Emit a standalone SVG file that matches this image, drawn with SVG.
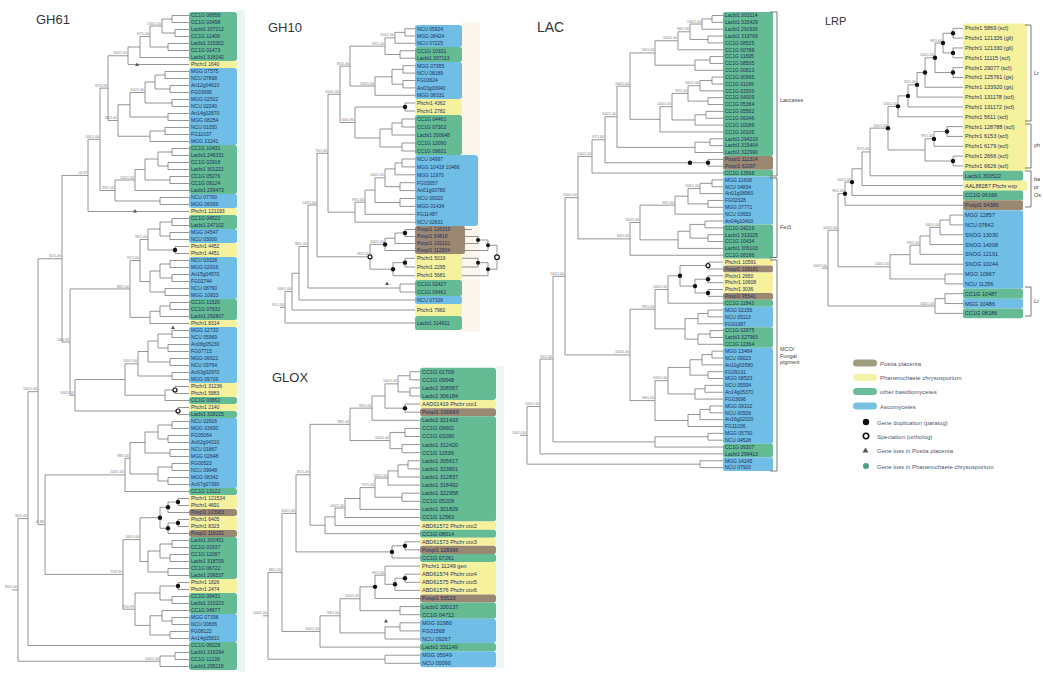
<svg xmlns="http://www.w3.org/2000/svg" width="1043" height="675" viewBox="0 0 1043 675">
<style>
text{font-family:"Liberation Sans",Arial,sans-serif}
.t{font-size:5px;fill:#1f2f5a}
.t55{font-size:5.5px;fill:#1f2f5a}
.s{font-size:3.6px;fill:#7a7a7a;text-anchor:end}
.ttl{font-size:13px;fill:#333}
.g{fill:#64bb94}.b{fill:#70bee6}.y{fill:#f5f19c}.n{fill:#9b8873}
.tree{fill:none;stroke:#7a7a7a;stroke-width:0.8}
.brk{fill:none;stroke:#666;stroke-width:0.9}
.dot{fill:#111}
.ring{fill:#fff;stroke:#111;stroke-width:1.2}
.tri{fill:#555}
.lg{font-size:6px;fill:#4a5570}
.bl{font-size:5.5px;fill:#444}
</style>
<rect width="1043" height="675" fill="#fff"/>
<rect x="237" y="10" width="8" height="662" fill="#eaf6f6"/>
<rect x="462" y="22" width="18" height="310" fill="#fbf6ee"/>
<rect x="496" y="366" width="8" height="302" fill="#eef7f4"/>

<!-- ================= GH61 ================= -->
<g id="gh61">
<text class="ttl" x="36" y="24">GH61</text>
<g id="gh61-n1"><rect class="g" x="189" y="12" width="48" height="49" rx="2.5"/><text class="t" x="191" y="17.3"><tspan x="191">CC1G 08958</tspan><tspan x="191" dy="7">CC1G 03498</tspan><tspan x="191" dy="7">Lacbi1 307212</tspan><tspan x="191" dy="7">CC1G 11409</tspan><tspan x="191" dy="7">Lacbi1 315302</tspan><tspan x="191" dy="7">CC1G 01473</tspan><tspan x="191" dy="7">Lacbi1 318142</tspan></text></g>
<g id="gh61-n2"><rect class="y" x="189" y="61" width="48" height="7" rx="2.5"/><text class="t" x="191" y="66.3">Phchr1 1640</text></g>
<g id="gh61-n3"><rect class="b" x="189" y="68" width="48" height="77" rx="2.5"/><text class="t" x="191" y="73.3"><tspan x="191">MGG 07575</tspan><tspan x="191" dy="7">NCU 07898</tspan><tspan x="191" dy="7">An12g04610</tspan><tspan x="191" dy="7">FG03695</tspan><tspan x="191" dy="7">MGG 02502</tspan><tspan x="191" dy="7">NCU 02240</tspan><tspan x="191" dy="7">An14g02670</tspan><tspan x="191" dy="7">MGG 08254</tspan><tspan x="191" dy="7">NCU 01050</tspan><tspan x="191" dy="7">FG11037</tspan><tspan x="191" dy="7">MGG 13241</tspan></text></g>
<g id="gh61-n4"><rect class="g" x="189" y="145" width="48" height="49" rx="2.5"/><text class="t" x="191" y="150.3"><tspan x="191">CC1G 10431</tspan><tspan x="191" dy="7">Lacbi1 246331</tspan><tspan x="191" dy="7">CC1G 02918</tspan><tspan x="191" dy="7">Lacbi1 301221</tspan><tspan x="191" dy="7">CC1G 05276</tspan><tspan x="191" dy="7">CC1G 09124</tspan><tspan x="191" dy="7">Lacbi1 299473</tspan></text></g>
<g id="gh61-n5"><rect class="b" x="189" y="194" width="48" height="14" rx="2.5"/><text class="t" x="191" y="199.3"><tspan x="191">NCU 07760</tspan><tspan x="191" dy="7">MGG 06069</tspan></text></g>
<g id="gh61-n6"><rect class="y" x="189" y="208" width="48" height="7" rx="2.5"/><text class="t" x="191" y="213.3">Phchr1 121193</text></g>
<g id="gh61-n7"><rect class="g" x="189" y="215" width="48" height="14" rx="2.5"/><text class="t" x="191" y="220.3"><tspan x="191">CC1G 04522</tspan><tspan x="191" dy="7">Lacbi1 247102</tspan></text></g>
<g id="gh61-n8"><rect class="b" x="189" y="229" width="48" height="14" rx="2.5"/><text class="t" x="191" y="234.3"><tspan x="191">MGG 04547</tspan><tspan x="191" dy="7">NCU 03000</tspan></text></g>
<g id="gh61-n9"><rect class="y" x="189" y="243" width="48" height="14" rx="2.5"/><text class="t" x="191" y="248.3"><tspan x="191">Phchr1 4452</tspan><tspan x="191" dy="7">Phchr1 4451</tspan></text></g>
<g id="gh61-n10"><rect class="b" x="189" y="257" width="48" height="42" rx="2.5"/><text class="t" x="191" y="262.3"><tspan x="191">NCU 03328</tspan><tspan x="191" dy="7">MGG 02916</tspan><tspan x="191" dy="7">An15g04570</tspan><tspan x="191" dy="7">FG02744</tspan><tspan x="191" dy="7">NCU 08760</tspan><tspan x="191" dy="7">MGG 10933</tspan></text></g>
<g id="gh61-n11"><rect class="g" x="189" y="299" width="48" height="21" rx="2.5"/><text class="t" x="191" y="304.3"><tspan x="191">CC1G 11520</tspan><tspan x="191" dy="7">CC1G 07632</tspan><tspan x="191" dy="7">Lacbi1 292807</tspan></text></g>
<g id="gh61-n12"><rect class="y" x="189" y="320" width="48" height="7" rx="2.5"/><text class="t" x="191" y="325.3">Phchr1 8314</text></g>
<g id="gh61-n13"><rect class="b" x="189" y="327" width="48" height="56" rx="2.5"/><text class="t" x="191" y="332.3"><tspan x="191">MGG 12733</tspan><tspan x="191" dy="7">NCU 05969</tspan><tspan x="191" dy="7">An08g05230</tspan><tspan x="191" dy="7">FG07715</tspan><tspan x="191" dy="7">MGG 06621</tspan><tspan x="191" dy="7">NCU 09764</tspan><tspan x="191" dy="7">An03g02970</tspan><tspan x="191" dy="7">MGG 09709</tspan></text></g>
<g id="gh61-n14"><rect class="y" x="189" y="383" width="48" height="14" rx="2.5"/><text class="t" x="191" y="388.3"><tspan x="191">Phchr1 31236</tspan><tspan x="191" dy="7">Phchr1 5883</tspan></text></g>
<g id="gh61-n15"><rect class="g" x="189" y="397" width="48" height="7" rx="2.5"/><text class="t" x="191" y="402.3">CC1G 00862</text></g>
<g id="gh61-n16"><rect class="y" x="189" y="404" width="48" height="7" rx="2.5"/><text class="t" x="191" y="409.3">Phchr1 2140</text></g>
<g id="gh61-n17"><rect class="g" x="189" y="411" width="48" height="7" rx="2.5"/><text class="t" x="191" y="416.3">Lacbi1 328215</text></g>
<g id="gh61-n18"><rect class="b" x="189" y="418" width="48" height="70" rx="2.5"/><text class="t" x="191" y="423.3"><tspan x="191">NCU 02916</tspan><tspan x="191" dy="7">MGG 03690</tspan><tspan x="191" dy="7">FG05064</tspan><tspan x="191" dy="7">An02g04310</tspan><tspan x="191" dy="7">NCU 01867</tspan><tspan x="191" dy="7">MGG 02648</tspan><tspan x="191" dy="7">FG00523</tspan><tspan x="191" dy="7">NCU 09948</tspan><tspan x="191" dy="7">MGG 08342</tspan><tspan x="191" dy="7">An07g07390</tspan></text></g>
<g id="gh61-n19"><rect class="g" x="189" y="488" width="48" height="7" rx="2.5"/><text class="t" x="191" y="493.3">CC1G 13122</text></g>
<g id="gh61-n20"><rect class="y" x="189" y="495" width="48" height="14" rx="2.5"/><text class="t" x="191" y="500.3"><tspan x="191">Phchr1 121534</tspan><tspan x="191" dy="7">Phchr1 4691</tspan></text></g>
<g id="gh61-n21"><rect class="n" x="189" y="509" width="48" height="7" rx="2.5"/><text class="t" x="191" y="514.3">Pospl1 103983</text></g>
<g id="gh61-n22"><rect class="y" x="189" y="516" width="48" height="14" rx="2.5"/><text class="t" x="191" y="521.3"><tspan x="191">Phchr1 6405</tspan><tspan x="191" dy="7">Phchr1 8323</tspan></text></g>
<g id="gh61-n23"><rect class="n" x="189" y="530" width="48" height="7" rx="2.5"/><text class="t" x="191" y="535.3">Pospl1 116291</text></g>
<g id="gh61-n24"><rect class="g" x="189" y="537" width="48" height="42" rx="2.5"/><text class="t" x="191" y="542.3"><tspan x="191">Lacbi1 300451</tspan><tspan x="191" dy="7">CC1G 01937</tspan><tspan x="191" dy="7">CC1G 12087</tspan><tspan x="191" dy="7">Lacbi1 318709</tspan><tspan x="191" dy="7">CC1G 06722</tspan><tspan x="191" dy="7">Lacbi1 296537</tspan></text></g>
<g id="gh61-n25"><rect class="y" x="189" y="579" width="48" height="14" rx="2.5"/><text class="t" x="191" y="584.3"><tspan x="191">Phchr1 1826</tspan><tspan x="191" dy="7">Phchr1 2474</tspan></text></g>
<g id="gh61-n26"><rect class="g" x="189" y="593" width="48" height="21" rx="2.5"/><text class="t" x="191" y="598.3"><tspan x="191">CC1G 09431</tspan><tspan x="191" dy="7">Lacbi1 310223</tspan><tspan x="191" dy="7">CC1G 04877</tspan></text></g>
<g id="gh61-n27"><rect class="b" x="189" y="614" width="48" height="28" rx="2.5"/><text class="t" x="191" y="619.3"><tspan x="191">MGG 07398</tspan><tspan x="191" dy="7">NCU 00836</tspan><tspan x="191" dy="7">FG08122</tspan><tspan x="191" dy="7">An14g05810</tspan></text></g>
<g id="gh61-n28"><rect class="g" x="189" y="642" width="48" height="28" rx="2.5"/><text class="t" x="191" y="647.3"><tspan x="191">CC1G 08328</tspan><tspan x="191" dy="7">Lacbi1 316294</tspan><tspan x="191" dy="7">CC1G 11226</tspan><tspan x="191" dy="7">Lacbi1 295118</tspan></text></g>
</g>

<!-- ================= GH10 ================= -->
<g id="gh10">
<text class="ttl" x="268" y="32">GH10</text>
<g id="gh10-n1"><rect class="b" x="415" y="25" width="47" height="22" rx="2.5"/><text class="t" x="417" y="30.5"><tspan x="417">NCU 05924</tspan><tspan x="417" dy="7.33">MGG 08424</tspan><tspan x="417" dy="7.33">NCU 07225</tspan></text></g>
<g id="gh10-n2"><rect class="g" x="415" y="47" width="47" height="15" rx="2.5"/><text class="t" x="417" y="52.55"><tspan x="417">CC1G 10331</tspan><tspan x="417" dy="7.5">Lacbi1 307113</tspan></text></g>
<g id="gh10-n3"><rect class="b" x="415" y="62" width="47" height="37" rx="2.5"/><text class="t" x="417" y="67.5"><tspan x="417">MGG 07955</tspan><tspan x="417" dy="7.4">NCU 08189</tspan><tspan x="417" dy="7.4">FG03624</tspan><tspan x="417" dy="7.4">An03g00940</tspan><tspan x="417" dy="7.4">MGG 08331</tspan></text></g>
<g id="gh10-n4"><rect class="y" x="415" y="99" width="47" height="16" rx="2.5"/><text class="t" x="417" y="104.8"><tspan x="417">Phchr1 4362</tspan><tspan x="417" dy="8">Phchr1 2782</tspan></text></g>
<g id="gh10-n5"><rect class="g" x="415" y="115" width="47" height="40" rx="2.5"/><text class="t" x="417" y="120.8"><tspan x="417">CC1G 04461</tspan><tspan x="417" dy="8">CC1G 07302</tspan><tspan x="417" dy="8">Lacbi1 300648</tspan><tspan x="417" dy="8">CC1G 12090</tspan><tspan x="417" dy="8">CC1G 09831</tspan></text></g>
<g id="gh10-n6"><rect class="b" x="415" y="155" width="63" height="71" rx="3"/><text class="t" x="417" y="160.8"><tspan x="417">NCU 04997</tspan><tspan x="417" dy="7.9">MGG 10418 10466</tspan><tspan x="417" dy="7.9">MGG 11970</tspan><tspan x="417" dy="7.9">FG03057</tspan><tspan x="417" dy="7.9">An01g00780</tspan><tspan x="417" dy="7.9">NCU 09320</tspan><tspan x="417" dy="7.9">MGG 01434</tspan><tspan x="417" dy="7.9">FG11487</tspan><tspan x="417" dy="7.9">NCU 02631</tspan></text></g>
<g id="gh10-n7"><rect class="n" x="415" y="226" width="50" height="28" rx="2.5"/><text class="t" x="417" y="231.3"><tspan x="417">Pospl1 126319</tspan><tspan x="417" dy="7">Pospl1 54818</tspan><tspan x="417" dy="7">Pospl1 132101</tspan><tspan x="417" dy="7">Pospl1 112804</tspan></text></g>
<g id="gh10-n8"><rect class="y" x="415" y="254" width="47" height="26" rx="2.5"/><text class="t" x="417" y="260.1"><tspan x="417">Phchr1 5019</tspan><tspan x="417" dy="8.67">Phchr1 2295</tspan><tspan x="417" dy="8.67">Phchr1 5681</tspan></text></g>
<g id="gh10-n9"><rect class="g" x="415" y="280" width="47" height="16" rx="2.5"/><text class="t" x="417" y="285.8"><tspan x="417">CC1G 02427</tspan><tspan x="417" dy="8">CC1G 09461</tspan></text></g>
<g id="gh10-n10"><rect class="b" x="415" y="296" width="47" height="8" rx="2.5"/><text class="t" x="417" y="301.8">NCU 07326</text></g>
<g id="gh10-n11"><rect class="y" x="415" y="304" width="47" height="12" rx="2.5"/><text class="t" x="417" y="311.8">Phchr1 7982</text></g>
<g id="gh10-n12"><rect class="g" x="415" y="316" width="47" height="14" rx="2.5"/><text class="t" x="417" y="324.8">Lacbi1 314611</text></g>
</g>

<!-- ================= GLOX ================= -->
<g id="glox">
<text class="ttl" x="272" y="382">GLOX</text>
<g id="glox-n1"><rect class="g" x="420" y="367.65" width="76" height="32.4" rx="3"/><text class="t55" x="422" y="373.6"><tspan x="422">CC1G 01709</tspan><tspan x="422" dy="8.1">CC1G 09548</tspan><tspan x="422" dy="8.1">Lacbi1 308567</tspan><tspan x="422" dy="8.1">Lacbi1 306184</tspan></text></g>
<g id="glox-n2"><rect class="y" x="420" y="400.05" width="76" height="8.1" rx="2.5"/><text class="t55" x="422" y="406">AAD01419 Phchr cro1</text></g>
<g id="glox-n3"><rect class="n" x="420" y="408.15" width="76" height="8.1" rx="2.5"/><text class="t55" x="422" y="414.1">Pospl1 100669</text></g>
<g id="glox-n4"><rect class="g" x="420" y="416.25" width="76" height="105.3" rx="3"/><text class="t55" x="422" y="422.2"><tspan x="422">Lacbi1 321433</tspan><tspan x="422" dy="8.1">CC1G 09602</tspan><tspan x="422" dy="8.1">CC1G 03290</tspan><tspan x="422" dy="8.1">Lacbi1 312420</tspan><tspan x="422" dy="8.1">CC1G 11536</tspan><tspan x="422" dy="8.1">Lacbi1 305617</tspan><tspan x="422" dy="8.1">Lacbi1 323801</tspan><tspan x="422" dy="8.1">Lacbi1 312837</tspan><tspan x="422" dy="8.1">Lacbi1 318492</tspan><tspan x="422" dy="8.1">Lacbi1 322958</tspan><tspan x="422" dy="8.1">CC1G 05209</tspan><tspan x="422" dy="8.1">Lacbi1 301829</tspan><tspan x="422" dy="8.1">CC1G 12563</tspan></text></g>
<g id="glox-n5"><rect class="y" x="420" y="521.55" width="76" height="8.1" rx="2.5"/><text class="t55" x="422" y="527.5">ABD61572 Phchr cro2</text></g>
<g id="glox-n6"><rect class="g" x="420" y="529.65" width="76" height="8.1" rx="2.5"/><text class="t55" x="422" y="535.6">CC1G 08014</text></g>
<g id="glox-n7"><rect class="y" x="420" y="537.75" width="76" height="8.1" rx="2.5"/><text class="t55" x="422" y="543.7">ABD61573 Phchr cro3</text></g>
<g id="glox-n8"><rect class="n" x="420" y="545.85" width="76" height="8.1" rx="2.5"/><text class="t55" x="422" y="551.8">Pospl1 118366</text></g>
<g id="glox-n9"><rect class="g" x="420" y="553.95" width="76" height="8.1" rx="2.5"/><text class="t55" x="422" y="559.9">CC1G 07261</text></g>
<g id="glox-n10"><rect class="y" x="420" y="562.05" width="76" height="32.4" rx="3"/><text class="t55" x="422" y="568"><tspan x="422">Phchr1 11249 gen</tspan><tspan x="422" dy="8.1">ABD61574 Phchr cro4</tspan><tspan x="422" dy="8.1">ABD61575 Phchr cro5</tspan><tspan x="422" dy="8.1">ABD61576 Phchr cro6</tspan></text></g>
<g id="glox-n11"><rect class="n" x="420" y="594.45" width="76" height="8.1" rx="2.5"/><text class="t55" x="422" y="600.4">Pospl1 56523</text></g>
<g id="glox-n12"><rect class="g" x="420" y="602.55" width="76" height="16.2" rx="2.5"/><text class="t55" x="422" y="608.5"><tspan x="422">Lacbi1 330137</tspan><tspan x="422" dy="8.1">CC1G 04712</tspan></text></g>
<g id="glox-n13"><rect class="b" x="420" y="618.75" width="76" height="24.3" rx="3"/><text class="t55" x="422" y="624.7"><tspan x="422">MGG 01980</tspan><tspan x="422" dy="8.1">FG01568</tspan><tspan x="422" dy="8.1">NCU 09267</tspan></text></g>
<g id="glox-n14"><rect class="g" x="420" y="643.05" width="76" height="8.1" rx="2.5"/><text class="t55" x="422" y="649">Lacbi1 331149</text></g>
<g id="glox-n15"><rect class="b" x="420" y="651.15" width="76" height="16.2" rx="3"/><text class="t55" x="422" y="657.1"><tspan x="422">MGG 05049</tspan><tspan x="422" dy="8.1">NCU 00090</tspan></text></g>
</g>

<!-- ================= LAC ================= -->
<g id="lac">
<text class="ttl" x="537" y="32" style="font-size:14px">LAC</text>
<g id="lac-n1"><rect class="g" x="723" y="12.075" width="50" height="143.85" rx="2"/><text class="t" x="725" y="17.3"><tspan x="725">Lacbi1 303114</tspan><tspan x="725" dy="6.85">Lacbi1 315429</tspan><tspan x="725" dy="6.85">Lacbi1 291926</tspan><tspan x="725" dy="6.85">Lacbi1 319769</tspan><tspan x="725" dy="6.85">CC1G 08525</tspan><tspan x="725" dy="6.85">CC1G 00788</tspan><tspan x="725" dy="6.85">CC1G 11695</tspan><tspan x="725" dy="6.85">CC1G 08505</tspan><tspan x="725" dy="6.85">CC1G 00813</tspan><tspan x="725" dy="6.85">CC1G 00995</tspan><tspan x="725" dy="6.85">CC1G 01166</tspan><tspan x="725" dy="6.85">CC1G 03309</tspan><tspan x="725" dy="6.85">CC1G 04009</tspan><tspan x="725" dy="6.85">CC1G 05384</tspan><tspan x="725" dy="6.85">CC1G 05562</tspan><tspan x="725" dy="6.85">CC1G 06346</tspan><tspan x="725" dy="6.85">CC1G 10089</tspan><tspan x="725" dy="6.85">CC1G 10105</tspan><tspan x="725" dy="6.85">Lacbi1 294219</tspan><tspan x="725" dy="6.85">Lacbi1 315404</tspan><tspan x="725" dy="6.85">Lacbi1 322990</tspan></text></g>
<g id="lac-n2"><rect class="n" x="723" y="155.925" width="50" height="13.7" rx="2"/><text class="t" x="725" y="161.15"><tspan x="725">Pospl1 111314</tspan><tspan x="725" dy="6.85">Pospl1 62097</tspan></text></g>
<g id="lac-n3"><rect class="g" x="723" y="169.625" width="50" height="6.85" rx="2"/><text class="t" x="725" y="174.85">CC1G 13568</text></g>
<g id="lac-n4"><rect class="b" x="723" y="176.475" width="50" height="47.95" rx="2"/><text class="t" x="725" y="181.7"><tspan x="725">MGG 11608</tspan><tspan x="725" dy="6.85">NCU 04834</tspan><tspan x="725" dy="6.85">An01g08960</tspan><tspan x="725" dy="6.85">FG02328</tspan><tspan x="725" dy="6.85">MGG 07771</tspan><tspan x="725" dy="6.85">NCU 03653</tspan><tspan x="725" dy="6.85">An04g10400</tspan></text></g>
<g id="lac-n5"><rect class="g" x="723" y="224.425" width="50" height="34.25" rx="2"/><text class="t" x="725" y="229.65"><tspan x="725">CC1G 04219</tspan><tspan x="725" dy="6.85">Lacbi1 313225</tspan><tspan x="725" dy="6.85">CC1G 10434</tspan><tspan x="725" dy="6.85">Lacbi1 306103</tspan><tspan x="725" dy="6.85">CC1G 08186</tspan></text></g>
<g id="lac-n6"><rect class="y" x="723" y="258.675" width="50" height="6.85" rx="2"/><text class="t" x="725" y="263.9">Phchr1 10591</text></g>
<g id="lac-n7"><rect class="n" x="723" y="265.525" width="50" height="6.85" rx="2"/><text class="t" x="725" y="270.75">Pospl1 106181</text></g>
<g id="lac-n8"><rect class="y" x="723" y="272.375" width="50" height="20.55" rx="2"/><text class="t" x="725" y="277.6"><tspan x="725">Phchr1 2650</tspan><tspan x="725" dy="6.85">Phchr1 10608</tspan><tspan x="725" dy="6.85">Phchr1 3036</tspan></text></g>
<g id="lac-n9"><rect class="n" x="723" y="292.925" width="50" height="6.85" rx="2"/><text class="t" x="725" y="298.15">Pospl1 95541</text></g>
<g id="lac-n10"><rect class="g" x="723" y="299.775" width="50" height="6.85" rx="2"/><text class="t" x="725" y="305">CC1G 11843</text></g>
<g id="lac-n11"><rect class="b" x="723" y="306.625" width="50" height="20.55" rx="2"/><text class="t" x="725" y="311.85"><tspan x="725">MGG 02156</tspan><tspan x="725" dy="6.85">NCU 05113</tspan><tspan x="725" dy="6.85">FG01987</tspan></text></g>
<g id="lac-n12"><rect class="g" x="723" y="327.175" width="50" height="20.55" rx="2"/><text class="t" x="725" y="332.4"><tspan x="725">CC1G 02975</tspan><tspan x="725" dy="6.85">Lacbi1 327983</tspan><tspan x="725" dy="6.85">CC1G 12364</tspan></text></g>
<g id="lac-n13"><rect class="b" x="723" y="347.725" width="50" height="95.9" rx="2"/><text class="t" x="725" y="352.95"><tspan x="725">MGG 13464</tspan><tspan x="725" dy="6.85">NCU 09023</tspan><tspan x="725" dy="6.85">An11g03580</tspan><tspan x="725" dy="6.85">FG09131</tspan><tspan x="725" dy="6.85">MGG 08523</tspan><tspan x="725" dy="6.85">NCU 05594</tspan><tspan x="725" dy="6.85">An14g05370</tspan><tspan x="725" dy="6.85">FG03696</tspan><tspan x="725" dy="6.85">MGG 09102</tspan><tspan x="725" dy="6.85">NCU 00526</tspan><tspan x="725" dy="6.85">An16g02020</tspan><tspan x="725" dy="6.85">FG11036</tspan><tspan x="725" dy="6.85">MGG 05790</tspan><tspan x="725" dy="6.85">NCU 04528</tspan></text></g>
<g id="lac-n14"><rect class="g" x="723" y="443.625" width="50" height="13.7" rx="2"/><text class="t" x="725" y="448.85"><tspan x="725">CC1G 09307</tspan><tspan x="725" dy="6.85">Lacbi1 299413</tspan></text></g>
<g id="lac-n15"><rect class="b" x="723" y="457.325" width="50" height="13.7" rx="2"/><text class="t" x="725" y="462.55"><tspan x="725">MGG 14245</tspan><tspan x="725" dy="6.85">NCU 07920</tspan></text></g>
<path class="brk" d="M770 12H777V176H770M770 178H777V257.5H770M770 260H777V471H770"/>
<text class="bl" x="780" y="102">Laccases</text>
<text class="bl" x="780" y="229">Fet3</text>
<text class="bl" x="780" y="351"><tspan x="780">MCO/</tspan><tspan x="780" dy="6.5">Fungal</tspan><tspan x="780" dy="6.5">pigment</tspan></text>
</g>

<!-- ================= LRP ================= -->
<g id="lrp">
<text class="ttl" x="825" y="25" style="font-size:11px">LRP</text>
<g id="lrp-n1"><rect class="y" x="963" y="23.385" width="64" height="147.45" rx="2"/><text class="t55" x="965" y="30.3"><tspan x="965">Phchr1 5869 (scf)</tspan><tspan x="965" dy="9.83">Phchr1 121326 (gll)</tspan><tspan x="965" dy="9.83">Phchr1 121330 (gll)</tspan><tspan x="965" dy="9.83">Phchr1 11115 (scf)</tspan><tspan x="965" dy="9.83">Phchr1 29077 (scf)</tspan><tspan x="965" dy="9.83">Phchr1 125761 (gs)</tspan><tspan x="965" dy="9.83">Phchr1 133920 (gs)</tspan><tspan x="965" dy="9.83">Phchr1 131178 (scf)</tspan><tspan x="965" dy="9.83">Phchr1 131172 (scf)</tspan><tspan x="965" dy="9.83">Phchr1 5611 (scf)</tspan><tspan x="965" dy="9.83">Phchr1 128788 (scf)</tspan><tspan x="965" dy="9.83">Phchr1 6153 (scf)</tspan><tspan x="965" dy="9.83">Phchr1 6179 (scf)</tspan><tspan x="965" dy="9.83">Phchr1 2666 (scf)</tspan><tspan x="965" dy="9.83">Phchr1 6626 (scf)</tspan></text></g>
<g id="lrp-n2"><rect class="g" x="963" y="170.835" width="60" height="9.83" rx="2"/><text class="t55" x="965" y="177.75">Lacbi1 303522</text></g>
<g id="lrp-n3"><rect class="y" x="963" y="180.665" width="64" height="9.83" rx="2"/><text class="t55" x="965" y="187.58">AAL88287 Phchr exp</text></g>
<g id="lrp-n4"><rect class="g" x="963" y="190.495" width="60" height="9.83" rx="2"/><text class="t55" x="965" y="197.41">CC1G 06166</text></g>
<g id="lrp-n5"><rect class="n" x="963" y="200.325" width="60" height="9.83" rx="2"/><text class="t55" x="965" y="207.24">Pospl1 94386</text></g>
<g id="lrp-n6"><rect class="b" x="963" y="210.155" width="60" height="78.64" rx="2"/><text class="t55" x="965" y="217.07"><tspan x="965">MGG 12857</tspan><tspan x="965" dy="9.83">NCU 07842</tspan><tspan x="965" dy="9.83">SNOG 13030</tspan><tspan x="965" dy="9.83">SNOG 14008</tspan><tspan x="965" dy="9.83">SNOG 12191</tspan><tspan x="965" dy="9.83">SNOG 10244</tspan><tspan x="965" dy="9.83">MGG 10967</tspan><tspan x="965" dy="9.83">NCU 11256</tspan></text></g>
<g id="lrp-n7"><rect class="g" x="963" y="288.795" width="60" height="9.83" rx="2"/><text class="t55" x="965" y="295.71">CC1G 10487</text></g>
<g id="lrp-n8"><rect class="b" x="963" y="298.625" width="60" height="9.83" rx="2"/><text class="t55" x="965" y="305.54">MGG 10486</text></g>
<g id="lrp-n9"><rect class="g" x="963" y="308.455" width="60" height="9.83" rx="2"/><text class="t55" x="965" y="315.37">CC1G 08186</text></g>
<path class="brk" d="M1025 25H1031V121H1025M1025 124H1031V168H1025M1025 171H1031V207H1025M1025 287H1031V316H1025"/>
<text class="bl" x="1034" y="75">Lr</text>
<text class="bl" x="1034" y="147">ph</text>
<text class="bl" x="1034" y="181"><tspan x="1034">ba</tspan><tspan x="1034" dy="8">pr</tspan><tspan x="1034" dy="8">Os</tspan></text>
<text class="bl" x="1034" y="303">Lr</text>
</g>

<!-- ================= connectors ================= -->
<g id="connectors" class="tree">
<path id="tree-gh61" d="M189 15.5H172V22.5H189M189 29.5H175V36.5H189M172 19H162V33H175M189 43.5H168V50.5H189M162 26H150V47H168M150 36.5H140V57.5H189M140 47H128V64.5H189
M189 71.5H165V78.5H189M189 85.5H170V92.5H189M165 75H155V89H170M189 99.5H172V106.5H189M155 82H145V103H172M189 113.5H168V120.5H189M145 92.5H130V117H168M189 127.5H165V134.5H189M165 131H150V141.5H189M130 104.75H118V136.25H150M128 55.75H108V120.5H118
M189 148.5H172V155.5H189M189 162.5H168V169.5H189M172 152H158V166H168M189 176.5H170V183.5H189M158 159H145V180H170M145 169.5H135V190.5H189M189 197.5H160V204.5H189M135 180H115V201H160M108 88.1H100V190.5H115M100 139.3H88V211.5H189
M189 218.5H172V225.5H189M189 232.5H170V239.5H189M172 222H160V236H170M189 246.5H175V253.5H189M160 229H148V250H175M189 260.5H170V267.5H189M189 274.5H172V281.5H189M170 264H160V278H172M189 288.5H165V295.5H189M160 271H150V292H165M148 239.5H140V281.5H150M189 302.5H170V309.5H189M170 306H160V316.5H189M160 311.25H150V323.5H189M140 260.5H130V317.4H150
M189 330.5H172V337.5H189M189 344.5H168V351.5H189M172 334H158V348H168M189 358.5H170V365.5H189M158 341H148V362H170M189 372.5H172V379.5H189M148 351.5H138V376H172M189 386.5H175V393.5H189M175 390H165V400.5H189M138 363.75H125V395.25H165M189 407.5H178V414.5H189M125 379.5H75V411H178M130 288.95H70V395.25H75
M189 421.5H172V428.5H189M189 435.5H168V442.5H189M172 425H158V439H168M189 449.5H170V456.5H189M158 432H145V453H170M189 463.5H172V470.5H189M189 477.5H168V484.5H189M172 467H158V481H168M145 442.5H130V474H158M130 458.25H125V491.5H189
M189 498.5H178V505.5H189M178 502H168V512.5H189M189 519.5H178V526.5H189M178 523H168V533.5H189M168 507.25H160V528.25H168M189 540.5H172V547.5H189M189 554.5H170V561.5H189M172 544H160V558H170M189 568.5H168V575.5H189M160 551H148V572H168M160 517.75H140V561.5H148M189 582.5H178V589.5H189M189 596.5H172V603.5H189M178 586H160V600H172M189 617.5H172V624.5H189M189 610.5H162V621H172M189 631.5H170V638.5H189M162 615.75H150V635H170M160 593H135V625.4H150M140 539.6H123V609.2H135M125 474.9H45V574.4H123
M88 175.4H62V342.1H70M62 258.75H38V524.65H45M38 391.7H28V645.5H189M189 652.5H175V659.5H189M175 656H160V666.5H189M28 518.6H18V661.25H160M12 589.9H18"/>
<path id="tree-gh10" d="M415 28.7H405V36H415M405 32.35H395V43.3H415M415 50.75H400V58.25H415M395 37.8H385V54.5H400M415 65.7H403V73.1H415M415 80.5H403V87.9H415M403 69.4H392V84.2H403M392 76.8H375V95.3H415M385 46.15H350V86.05H375
M415 103H405V111H415M415 119H402V127H415M402 123H392V135H415M415 143H402V151H415M392 129H380V147H402M405 107H355V138H380M350 66.1H340V122.5H355
M415 159H402V166.9H415M402 162.95H395V174.8H415M415 182.7H400V190.6H415M395 168.9H385V186.65H400M415 198.5H400V206.4H415M385 177.8H375V202.45H400M375 190.1H365V214.3H415M365 202.2H355V222.2H415M340 94.3H328V212.2H355
M415 229.5H405V236.5H415M405 233H395V243.5H415M395 238.25H385V250.5H415M415 258.3H405V267H415M405 262.65H393V275.7H415M385 244.4H370V269.2H393M328 153.25H317V256.8H370
M415 284H400V292H415M317 205H308V288H400M308 246.5H299V300H415M299 273.25H292V310H415M292 291.6H285V323H415M280 307.3H285
M465 229.5H472M465 236.5H478V243.5H465M478 240H488V250.5H465M462 258.3H478V267H462M478 262.65H488V275.7H462M488 245.25H497V269.2H488"/>
<path id="tree-glox" d="M420 371.7H410V379.8H420M420 387.9H410V396H420M410 375.75H398V391.95H410M420 404.1H405V412.2H420M398 383.85H385V408.15H405M385 396H372V420.3H420M420 428.4H405V436.5H420M420 444.6H402V452.7H420M405 432.45H390V448.65H402M372 408.15H350V440.55H390
M420 460.8H408V468.9H420M408 464.85H398V477H420M398 470.9H388V485.1H420M420 493.2H402V501.3H420M388 478H375V497.25H402M375 487.6H360V509.4H420M360 498.5H345V517.5H420M345 508H335V525.6H420M335 516.8H325V533.7H420M350 424.35H310V525.25H325
M420 541.8H405V549.9H420M405 545.85H392V558H420M310 474.8H296V551.9H392M420 574.2H405V582.3H420M405 578.25H395V590.4H420M420 566.1H385V584.3H395M385 575.2H375V598.5H420M420 606.6H400V614.7H420M375 586.85H360V610.65H400M420 622.8H400V630.9H420M400 626.85H385V639H420M360 598.75H340V632.9H385M340 615.8H320V647.1H420M296 513.35H282V631.45H320
M420 655.2H385V663.3H420M282 572.4H268V659.25H385M263 615.8H268"/>
<path id="tree-lac" d="M723 15.5H712V22.35H723M712 18.93H702V29.2H723M723 36.05H708V42.9H723M702 24.06H690V39.48H708M690 31.77H678V49.75H723M723 56.6H710V63.45H723M710 60.03H695V70.3H723M678 40.76H655V65.17H695
M723 77.15H712V84H723M712 80.58H700V90.85H723M723 97.7H708V104.55H723M700 85.71H688V101.13H708M723 111.4H706V118.25H723M706 114.83H695V125.1H723M688 93.42H672V119.96H695M672 106.69H660V131.95H723M655 52.96H630V119.32H660
M723 138.8H710V145.65H723M710 142.23H695V152.5H723M630 86.14H617V147.36H695M723 159.35H708V166.2H723M617 116.75H605V162.78H708M605 139.77H592V173.05H723
M723 179.9H712V186.75H723M712 183.33H700V193.6H723M723 200.45H708V207.3H723M700 188.46H688V203.88H708M688 196.17H675V214.15H723M723 221H705V227.85H723M723 234.7H708V241.55H723M705 224.43H690V238.13H708M690 231.28H678V248.4H723M675 205.16H640V239.84H678M640 222.5H630V255.25H723M592 156.41H578V238.88H630
M723 262.1H708V268.95H723M723 275.8H708V282.65H723M723 289.5H708V296.35H723M708 279.23H695V292.93H708M708 265.53H680V286.08H695M680 275.8H668V303.2H723M723 310.05H708V316.9H723M708 313.48H698V323.75H723M723 330.6H710V337.45H723M710 334.03H698V344.3H723M698 318.61H685V339.16H698M668 289.5H655V328.89H685
M723 351.15H712V358H723M712 354.58H702V364.85H723M723 371.7H708V378.55H723M702 359.71H690V375.13H708M723 385.4H705V392.25H723M705 388.83H695V399.1H723M690 367.42H668V393.96H695M723 405.95H710V412.8H723M710 409.38H700V419.65H723M700 414.51H688V426.5H723M668 380.69H655V420.5H688M655 309.2H630V400.6H655M578 197.65H565V354.9H630
M723 433.35H708V440.2H723M708 436.78H655V447.05H723M565 276.28H553V441.91H655M553 359.1H540V453.9H723M723 460.75H700V467.6H723M540 406.5H527V464.18H700M520 435.34H527"/>
<path id="tree-lrp" d="M963 28.3H953V38.13H963M963 47.96H953V57.79H963M953 33.22H943V52.88H953M963 67.62H953V77.45H963M943 43.05H935V72.54H953M935 57.8H925V87.28H963M925 72.54H917V97.11H963M917 84.83H908V106.94H963M908 95.89H898V116.77H963
M963 126.6H947V136.43H963M947 131.52H934V146.26H963M963 156.09H953V165.92H963M934 138.89H925V161H953M898 106.33H888V149.95H925M888 128.14H870V175.75H963M870 151.95H862V185.58H963M862 168.77H852V195.41H963M852 182.09H845V205.24H963
M963 215.07H950V224.9H963M950 219.99H940V234.73H963M940 227.36H930V244.56H963M930 235.96H920V254.39H963M920 245.18H910V264.22H963M963 274.05H945V283.88H963M910 254.7H890V278.97H945M845 193.67H838V266.84H890
M963 293.71H945V303.54H963M945 298.63H935V313.37H963M838 230.26H828V306H935M822 268.13H828"/>
</g>

<!-- ================= event markers ================= -->
<g id="events">
<circle class="dot" cx="175" cy="250" r="2.2"/>
<circle class="dot" cx="178" cy="502" r="2.2"/><circle class="dot" cx="168" cy="507.25" r="2.2"/>
<circle class="dot" cx="178" cy="523" r="2.2"/><circle class="dot" cx="168" cy="528.25" r="2.2"/>
<circle class="dot" cx="160" cy="517.75" r="2.2"/><circle class="dot" cx="178" cy="586" r="2.2"/>
<circle class="ring" cx="175" cy="390" r="2"/><circle class="ring" cx="178" cy="411" r="2"/>
<path class="tri" d="M137 62.5l2 3.4h-4zM135 209l2 3.4h-4zM173 325.5l2 3.4h-4zM387 281.5l2 3.4h-4zM386 619l2 3.4h-4z"/>
<circle class="dot" cx="405" cy="107" r="2.2"/>
<circle class="dot" cx="405" cy="233" r="2.2"/><circle class="dot" cx="385" cy="244.4" r="2.2"/>
<circle class="dot" cx="405" cy="262.65" r="2.2"/><circle class="dot" cx="393" cy="269.2" r="2.2"/>
<circle class="ring" cx="370" cy="256.8" r="2"/>
<circle class="dot" cx="478" cy="240" r="2"/><circle class="dot" cx="488" cy="245.25" r="2"/>
<circle class="dot" cx="478" cy="262.65" r="2"/><circle class="dot" cx="488" cy="269.2" r="2"/>
<circle class="ring" cx="497" cy="257.2" r="2.3"/>
<circle class="dot" cx="405" cy="408.15" r="2.2"/><circle class="dot" cx="405" cy="545.85" r="2.2"/>
<circle class="dot" cx="392" cy="551.9" r="2.2"/><circle class="dot" cx="405" cy="578.25" r="2.2"/>
<circle class="dot" cx="395" cy="584.3" r="2.2"/><circle class="dot" cx="375" cy="586.85" r="2.2"/>
<circle class="dot" cx="708" cy="162.78" r="2.2"/><circle class="dot" cx="690" cy="162.78" r="2.2"/>
<circle class="ring" cx="708" cy="265.53" r="2"/><circle class="dot" cx="708" cy="279.23" r="2.2"/>
<circle class="dot" cx="708" cy="292.93" r="2.2"/><circle class="dot" cx="695" cy="286.08" r="2.2"/>
<circle class="dot" cx="680" cy="275.8" r="2.2"/>
<circle class="dot" cx="953" cy="33.22" r="2.2"/><circle class="dot" cx="953" cy="52.88" r="2.2"/>
<circle class="dot" cx="943" cy="43.05" r="2.2"/><circle class="dot" cx="953" cy="72.54" r="2.2"/>
<circle class="dot" cx="935" cy="57.8" r="2.2"/><circle class="dot" cx="925" cy="72.54" r="2.2"/>
<circle class="dot" cx="917" cy="84.83" r="2.2"/><circle class="dot" cx="908" cy="95.89" r="2.2"/>
<circle class="dot" cx="898" cy="106.33" r="2.2"/><circle class="dot" cx="947" cy="131.52" r="2.2"/>
<circle class="dot" cx="934" cy="138.89" r="2.2"/><circle class="dot" cx="953" cy="161" r="2.2"/>
<circle class="dot" cx="888" cy="128.14" r="2.2"/><circle class="dot" cx="852" cy="182.09" r="2.2"/>
<circle class="dot" cx="845" cy="193.67" r="2.2"/>
</g>

<!-- ================= support values ================= -->
<g id="supports" class="s">
<text x="161" y="24.5">100/1.00</text><text x="149" y="35">97/1.00</text><text x="127" y="54.2">100/1.00</text>
<text x="144" y="91">100/1.00</text><text x="117" y="119">84/1.00</text><text x="107" y="86.6">67/0.99</text>
<text x="134" y="178.5">100/1.00</text><text x="114" y="189">93/1.00</text><text x="99" y="137.8">100/1.00</text><text x="87" y="173.9">-/0.97</text>
<text x="147" y="238">99/1.00</text><text x="139" y="259">91/1.00</text><text x="129" y="287.5">88/1.00</text>
<text x="137" y="362.2">100/1.00</text><text x="74" y="393.7">100/1.00</text><text x="69" y="340.6">54/0.92</text>
<text x="129" y="456.7">98/1.00</text><text x="124" y="473.4">100/1.00</text>
<text x="139" y="538.1">100/1.00</text><text x="134" y="607.7">75/0.99</text><text x="122" y="572.9">71/0.99</text><text x="44" y="523.1">-/0.88</text>
<text x="61" y="257.2">92/1.00</text><text x="37" y="390.2">100/1.00</text><text x="27" y="517.1">96/1.00</text><text x="17" y="588.4">89/1.00</text><text x="159" y="659.7">100/1.00</text>
<text x="394" y="36.3">100/1.00</text><text x="384" y="44.6">99/1.00</text><text x="374" y="84.5">100/1.00</text><text x="349" y="64.6">85/1.00</text>
<text x="354" y="121">64/0.95</text><text x="339" y="92.8">100/1.00</text><text x="384" y="176.3">100/1.00</text><text x="364" y="200.7">99/1.00</text>
<text x="327" y="151.7">73/1.00</text><text x="384" y="242.9">100/1.00</text><text x="369" y="255.3">96/1.00</text><text x="316" y="203.5">100/1.00</text>
<text x="307" y="245">88/1.00</text><text x="291" y="290.1">100/1.00</text><text x="284" y="305.8">91/1.00</text>
<text x="397" y="382.3">100/1.00</text><text x="371" y="406.6">99/1.00</text><text x="389" y="439">100/1.00</text><text x="349" y="422.8">78/1.00</text>
<text x="387" y="476.5">100/1.00</text><text x="374" y="486.1">97/1.00</text><text x="344" y="506.5">100/1.00</text><text x="309" y="473.3">81/1.00</text>
<text x="295" y="511.9">100/1.00</text><text x="384" y="573.7">99/1.00</text><text x="359" y="597.2">100/1.00</text><text x="339" y="614.3">94/1.00</text>
<text x="319" y="629.9">100/1.00</text><text x="281" y="570.9">86/1.00</text><text x="267" y="614.3">100/1.00</text>
<text x="701" y="22.5">100/1.00</text><text x="689" y="30.2">98/1.00</text><text x="677" y="39.2">100/1.00</text><text x="654" y="51.4">96/1.00</text>
<text x="699" y="84.2">100/1.00</text><text x="687" y="91.9">99/1.00</text><text x="671" y="105.2">100/1.00</text><text x="629" y="84.6">100/1.00</text>
<text x="616" y="115.2">100/1.00</text><text x="604" y="138.2">97/1.00</text><text x="591" y="154.9">100/1.00</text>
<text x="699" y="186.9">100/1.00</text><text x="674" y="203.6">99/1.00</text><text x="639" y="221">100/1.00</text><text x="629" y="237.4">84/1.00</text>
<text x="577" y="196.1">100/1.00</text><text x="667" y="288">100/1.00</text><text x="654" y="307.7">99/1.00</text><text x="667" y="379.2">100/1.00</text>
<text x="654" y="399.1">98/1.00</text><text x="629" y="353.4">100/1.00</text><text x="564" y="274.8">100/1.00</text><text x="552" y="357.6">92/1.00</text>
<text x="539" y="405">100/1.00</text><text x="526" y="433.8">100/1.00</text>
<text x="942" y="41.5">98/1.00</text><text x="934" y="56.3">100/1.00</text><text x="916" y="83.3">99/1.00</text><text x="897" y="104.8">100/1.00</text>
<text x="887" y="126.6">100/1.00</text><text x="933" y="137.4">99/1.00</text><text x="869" y="150.4">87/1.00</text><text x="851" y="180.6">100/1.00</text>
<text x="844" y="192.2">96/1.00</text><text x="939" y="225.9">100/1.00</text><text x="919" y="243.7">99/1.00</text><text x="889" y="265.3">100/1.00</text>
<text x="837" y="228.8">100/1.00</text><text x="827" y="266.6">100/1.00</text><text x="934" y="304.5">100/1.00</text>
</g>

<!-- ================= legend ================= -->
<g id="legend">
<g id="lg-1"><rect x="853" y="359.5" width="24" height="7" rx="3.5" fill="#a09c7e"/><text class="lg" x="880" y="365.5">Postia placenta</text></g>
<g id="lg-2"><rect x="853" y="374" width="24" height="7" rx="3.5" fill="#f4f1a8"/><text class="lg" x="880" y="380">Phanerochaete chrysosporium</text></g>
<g id="lg-3"><rect x="853" y="388" width="24" height="7" rx="3.5" fill="#6dbc99"/><text class="lg" x="880" y="394">other basidiomycetes</text></g>
<g id="lg-4"><rect x="853" y="402.5" width="24" height="7" rx="3.5" fill="#7bbfe0"/><text class="lg" x="880" y="408.5">Ascomycetes</text></g>
<g id="lg-5"><circle cx="866" cy="422" r="3.2" fill="#111"/><text class="lg" x="877" y="424.5">Gene duplication (paralog)</text></g>
<g id="lg-6"><circle cx="866" cy="436" r="2.7" fill="#fff" stroke="#111" stroke-width="1.6"/><text class="lg" x="877" y="438.5">Speciation (ortholog)</text></g>
<g id="lg-7"><path d="M865.5 447.5l3 5h-6z" fill="#555"/><text class="lg" x="877" y="452.5">Gene loss in Postia placenta</text></g>
<g id="lg-8"><circle cx="866" cy="466" r="3" fill="#4f9e82"/><text class="lg" x="877" y="468.5">Gene loss in Phanerochaete chrysosporium</text></g>
</g>
</svg>
